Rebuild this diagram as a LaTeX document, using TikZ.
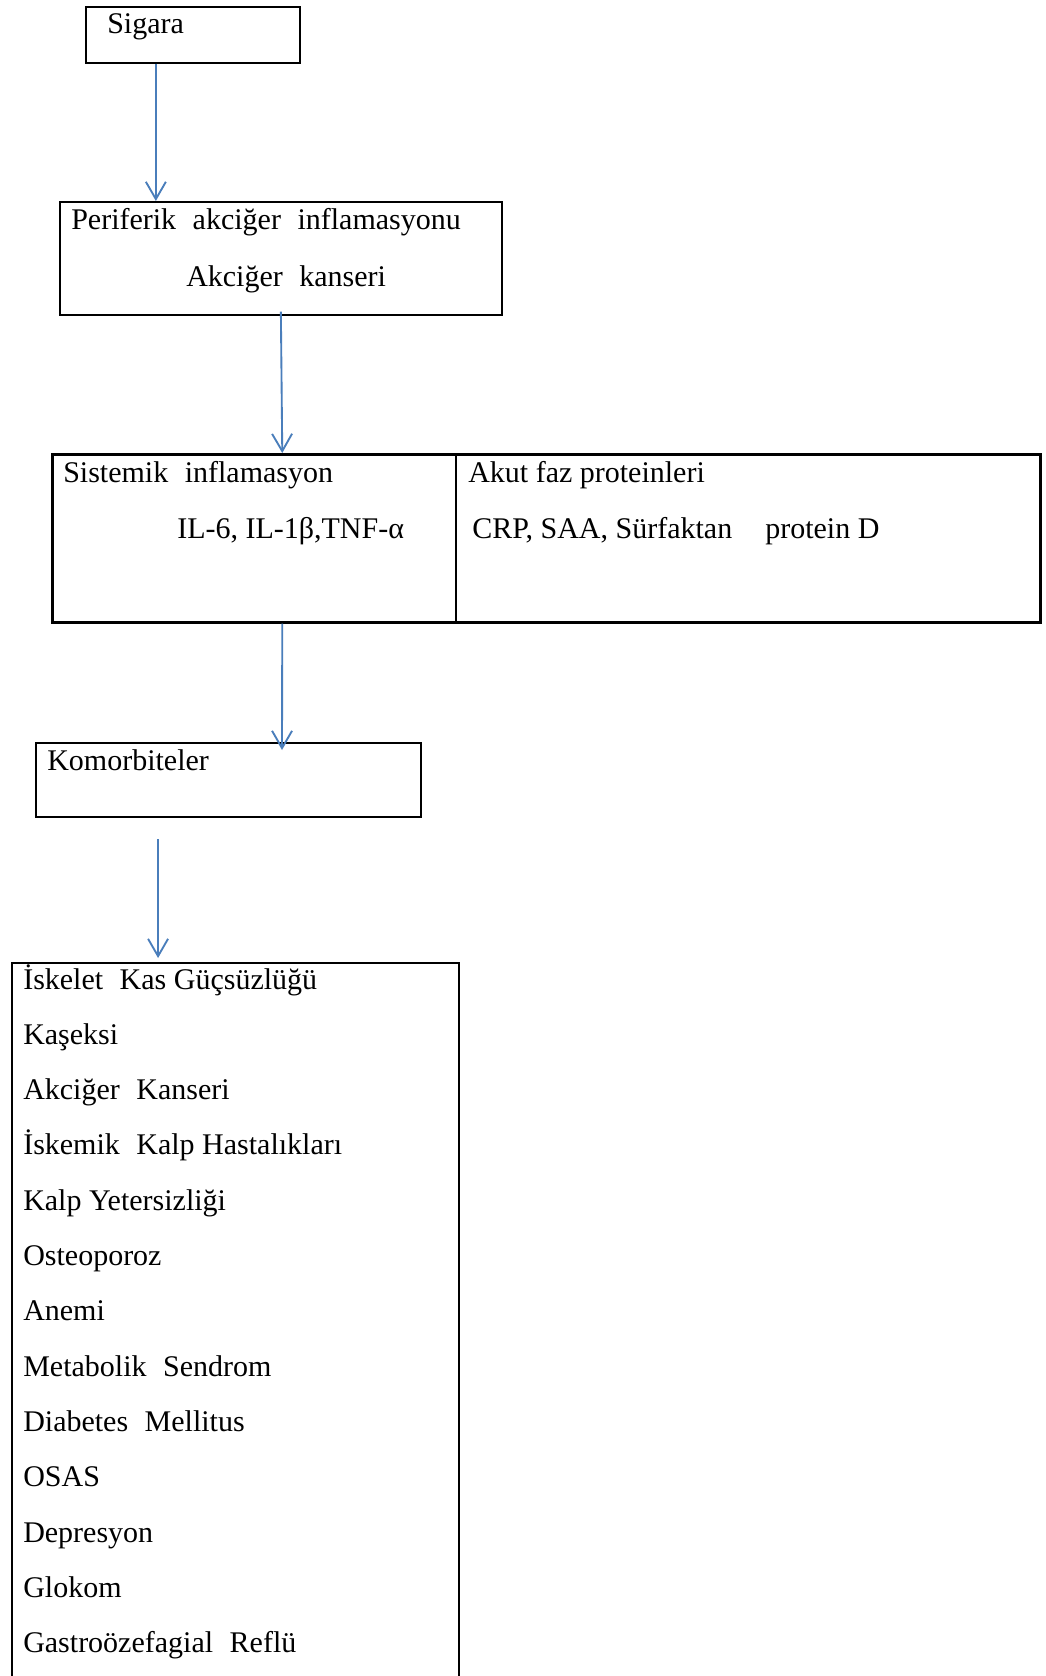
\documentclass[tikz,border=0pt]{standalone}
\usepackage{fontspec}
\setmainfont{Liberation Serif}
\usetikzlibrary{arrows.meta,calc}
\definecolor{arrowblue}{HTML}{4A7EBB}
\newcommand\wgap{\hspace{0.55em}}
\begin{document}
\begin{tikzpicture}[x=0.75pt,y=-0.75pt,
  box/.style={draw=black, inner sep=0pt, anchor=north west, line width=1.3pt},
  thickbox/.style={box, line width=1.9pt},
  lbl/.style={anchor=base west, inner sep=0pt, font=\fontsize{22.5}{27}\selectfont},
  conn/.style={draw=arrowblue, line width=1.4pt, -{Straight Barb[length=13pt,width=15pt,line width=1.4pt]}}]
\fill[white] (0,0) rectangle (1045,1676);
\useasboundingbox (0,0) rectangle (1045,1676);

% boxes
\node[box, minimum width=214*0.75pt, minimum height=56*0.75pt] (sigara) at (85,6) {};
\node[box, minimum width=442*0.75pt, minimum height=113*0.75pt] (perif) at (59,201) {};
\node[thickbox, minimum width=988*0.75pt, minimum height=168*0.75pt] (sist) at (51,453) {};
\draw[line width=1pt] ($(sist.north west)+(405,0)$) -- ($(sist.south west)+(405,0)$);
\node[box, line width=1.5pt, minimum width=385*0.75pt, minimum height=74*0.75pt] (kom) at (35,742) {};
\node[box, line width=1.6pt, minimum width=447*0.75pt, minimum height=740*0.75pt] (list) at (11,962) {};

% texts
\node[lbl] (tSigara) at (107,34) {Sigara};
\node[lbl] (tPerif) at (71,230) {Periferik\wgap akciğer\wgap inflamasyonu};
\node[lbl] (tAkc) at (186,287) {Akciğer\wgap kanseri};
\node[lbl] (tSist) at (63,482) {Sistemik\wgap inflamasyon};
\node[lbl] (tIL) at (177,538) {IL-6, IL-1β,TNF-α};
\node[lbl] (tAkut) at (468,482) {Akut faz proteinleri};
\node[lbl] (tCRP) at (472,538) {CRP, SAA, Sürfaktan\hspace{1.1em}protein D};
\node[lbl] (tKom) at (47,770) {Komorbiteler};

\node[lbl] (l1) at (23,989) {İskelet\wgap Kas Güçsüzlüğü};
\node[lbl] (l2) at (23,1044.3) {Kaşeksi};
\node[lbl] (l3) at (23,1099.6) {Akciğer\wgap Kanseri};
\node[lbl] (l4) at (23,1154.9) {İskemik\wgap Kalp Hastalıkları};
\node[lbl] (l5) at (23,1210.2) {Kalp Yetersizliği};
\node[lbl] (l6) at (23,1265.5) {Osteoporoz};
\node[lbl] (l7) at (23,1320.8) {Anemi};
\node[lbl] (l8) at (23,1376.1) {Metabolik\wgap Sendrom};
\node[lbl] (l9) at (23,1431.4) {Diabetes\wgap Mellitus};
\node[lbl] (l10) at (23,1486.7) {OSAS};
\node[lbl] (l11) at (23,1542.0) {Depresyon};
\node[lbl] (l12) at (23,1597.3) {Glokom};
\node[lbl] (l13) at (23,1652.6) {Gastroözefagial\wgap Reflü};

% connectors
\draw[conn] ($(sigara.south)+(-37,0)$) -- ($(perif.north)+(-125,0)$);
\draw[conn] ($(perif.south)+(0,-4)$) -- ($(sist.north)+(-264,0)$);
\draw[conn] ($(sist.south)+(-264,0)$) -- ($(kom.north)+(53.5,8)$);
\draw[conn] ($(kom.south)+(-70.5,21)$) -- ($(list.north)+(-77.5,-4)$);
\end{tikzpicture}
\end{document}
